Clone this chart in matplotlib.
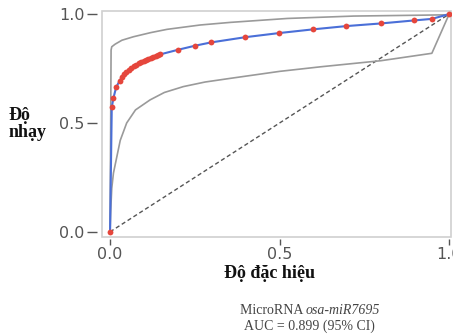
import matplotlib
matplotlib.use('Agg')
import matplotlib.pyplot as plt
from matplotlib.patches import Rectangle

# ROC points (1 - specificity, sensitivity)
roc_x = [0.0, 0.005, 0.010, 0.018, 0.028, 0.035, 0.041, 0.048, 0.056, 0.062,
         0.070, 0.076, 0.085, 0.091, 0.099, 0.106, 0.112, 0.120, 0.127, 0.134,
         0.141, 0.148, 0.200, 0.251, 0.298, 0.399, 0.499, 0.599, 0.697, 0.798,
         0.897, 0.949, 1.0]
roc_y = [0.0, 0.572, 0.615, 0.664, 0.693, 0.712, 0.723, 0.735, 0.745, 0.752,
         0.761, 0.767, 0.774, 0.779, 0.785, 0.790, 0.795, 0.800, 0.804, 0.808,
         0.812, 0.815, 0.836, 0.855, 0.870, 0.894, 0.913, 0.930, 0.945, 0.957,
         0.971, 0.978, 1.0]

# confidence band
upper_x = [0.0, 0.003, 0.005, 0.015, 0.035, 0.069, 0.120, 0.168, 0.266, 0.355,
           0.523, 0.719, 0.917, 1.0]
upper_y = [0.0, 0.835, 0.850, 0.862, 0.880, 0.896, 0.915, 0.930, 0.950, 0.962,
           0.980, 0.991, 0.995, 0.997]
lower_x = [0.0, 0.002, 0.005, 0.010, 0.020, 0.030, 0.049, 0.075, 0.118, 0.160,
           0.216, 0.280, 0.355, 0.500, 0.621, 0.799, 0.949, 1.0]
lower_y = [0.0, 0.100, 0.200, 0.270, 0.345, 0.420, 0.500, 0.560, 0.606, 0.640,
           0.667, 0.688, 0.705, 0.737, 0.758, 0.786, 0.820, 1.0]

ticks = [0.0, 0.5, 1.0]
tick_labels = ['0.0', '0.5', '1.0']

fig = plt.figure(figsize=(4.53, 3.35), dpi=100)
ax = fig.add_axes([0.225, 0.293, 0.771, 0.674])

ax.plot([0, 1], [0, 1], linestyle=(0, (3, 2)), color='#555555', linewidth=1.0, zorder=2)
ax.plot(upper_x, upper_y, color='#9a9a9a', linewidth=1.2, zorder=3)
ax.plot(lower_x, lower_y, color='#9a9a9a', linewidth=1.2, zorder=3)
ax.plot(roc_x, roc_y, color='#4a6fd8', linewidth=1.5, zorder=4)
ax.plot(roc_x, roc_y, linestyle='none', marker='o', markersize=4.2,
        color='#e5463c', markeredgewidth=0, zorder=5)

ax.set_xlim(-0.024, 1.006)
ax.set_ylim(-0.023, 1.014)

for s in ax.spines.values():
    s.set_visible(False)
ax.spines['left'].set_position(('outward', 3.5))
ax.spines['bottom'].set_position(('outward', 1.5))
ax.add_patch(Rectangle((0, 0), 1, 1, transform=ax.transAxes, fill=False,
                       edgecolor='#d0d0d0', linewidth=1.2, clip_on=False, zorder=1))

ax.set_xticks(ticks)
ax.set_xticklabels(tick_labels)
ax.set_yticks(ticks)
ax.set_yticklabels(tick_labels)
ax.tick_params(axis='y', direction='out', length=7, width=1, color='#555555',
               labelcolor='#555555', labelsize=11.5, pad=2)
ax.tick_params(axis='x', direction='out', length=4.5, width=1, color='#555555',
               labelcolor='#555555', labelsize=11.5, pad=1)
ax.tick_params(top=False, right=False)

fig.text(0.018, 0.630, 'Độ\nnhạy', family='Liberation Serif', fontweight='bold',
         fontsize=13, ha='left', va='center', linespacing=1.0, color='#111111')
fig.text(0.596, 0.185, 'Độ đặc hiệu', family='Liberation Serif', fontweight='bold',
         fontsize=13, ha='center', va='center', color='#111111')

# caption line 1: upright + italic parts, centred together
cap_kw = dict(family='Liberation Serif', fontsize=10, va='center', color='#444444')
t1 = fig.text(0, 0.072, 'MicroRNA ', ha='left', **cap_kw)
t2 = fig.text(0, 0.072, 'osa-miR7695', ha='left', style='italic', **cap_kw)
r = fig.canvas.get_renderer()
w1 = t1.get_window_extent(r).width / fig.bbox.width
w2 = t2.get_window_extent(r).width / fig.bbox.width
x0 = 0.684 - (w1 + w2) / 2
t1.set_x(x0)
t2.set_x(x0 + w1)
fig.text(0.684, 0.027, 'AUC = 0.899 (95% CI)', ha='center', **cap_kw)

fig.savefig('out.png', dpi=100)
